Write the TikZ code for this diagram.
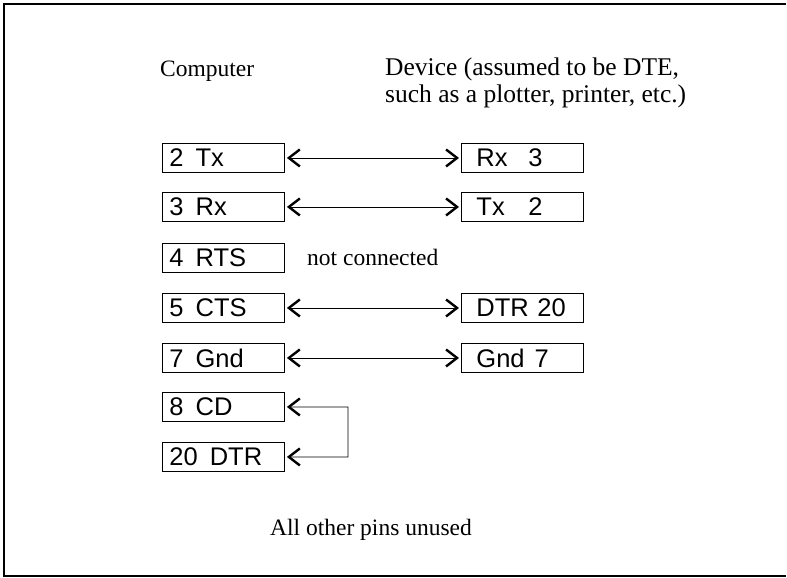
\documentclass[tikz,border=0pt]{standalone}
\usepackage{fontspec}
\setmainfont{Liberation Serif}
\setsansfont{Liberation Sans}
\usetikzlibrary{arrows.meta,positioning}
\tikzset{
  pin/.style={draw, line width=0.9pt, minimum width=122pt, minimum height=29pt,
    inner sep=0pt, text width=108pt, align=left, font=\sffamily\fontsize{25.5}{26}\selectfont,
    anchor=north west},
  rpin/.style={pin, text width=92pt},
  lbl/.style={font=\fontsize{23.5}{27}\selectfont, inner sep=0pt, align=left},
  barb/.tip={Straight Barb[length=11pt,width=17pt,line width=2.4pt 0]},
  link/.style={line width=0.9pt, arrows={barb-barb}, shorten <=2pt, shorten >=2pt},
  frame/.style={line width=1.8pt}
}
\newcommand{\pn}[2]{#1\hspace{12pt}#2}
\begin{document}
\begin{tikzpicture}[x=1pt,y=-1pt]
\useasboundingbox (0,0) rectangle (787,578);
% frame (open on the right)
\coordinate (ftr) at (786,4);
\coordinate (ftl) at (4,4);
\coordinate (fbl) at (4,576);
\coordinate (fbr) at (786,576);
\draw[frame] (ftr) -- (ftl) -- (fbl) -- (fbr);
% headers
\node[lbl, anchor=west] (hc) at (160,71) {Computer};
\node[lbl, anchor=north west, font=\fontsize{25.5}{27}\selectfont] (hd) at (385,58) {Device (assumed to be DTE,\\such as a plotter, printer, etc.)};
% left pins
\node[pin] (l2)  at (162,143) {\pn{2}{Tx}};
\node[pin] (l3)  at (162,192) {\pn{3}{Rx}};
\node[pin] (l4)  at (162,243) {\pn{4}{RTS}};
\node[pin] (l5)  at (162,293) {\pn{5}{CTS}};
\node[pin] (l7)  at (162,343) {\pn{7}{Gnd}};
\node[pin] (l8)  at (162,392) {\pn{8}{CD}};
\node[pin] (l20) at (162,442) {\pn{20}{DTR}};
% right pins
\node[rpin] (r3)  at (461,143) {\makebox[52pt][l]{Rx}3};
\node[rpin] (r2)  at (461,192) {\makebox[52pt][l]{Tx}2};
\node[rpin] (r20) at (461,293) {DTR 20};
\node[rpin] (r7)  at (461,343) {Gnd\hspace{10pt}7};
% notes
\node[lbl, anchor=west] (nc) at (307,257) {not connected};
\node[lbl] (all) at (371,530) {All other pins unused};
% links
\draw[link] (l2.east) -- (r3.west);
\draw[link] (l3.east) -- (r2.west);
\draw[link] (l5.east) -- (r20.west);
\draw[link] (l7.east) -- (r7.west);
\coordinate (b1) at (348,407);
\draw[link] (l8.east) -- (b1) |- (l20.east);
\end{tikzpicture}
\end{document}
